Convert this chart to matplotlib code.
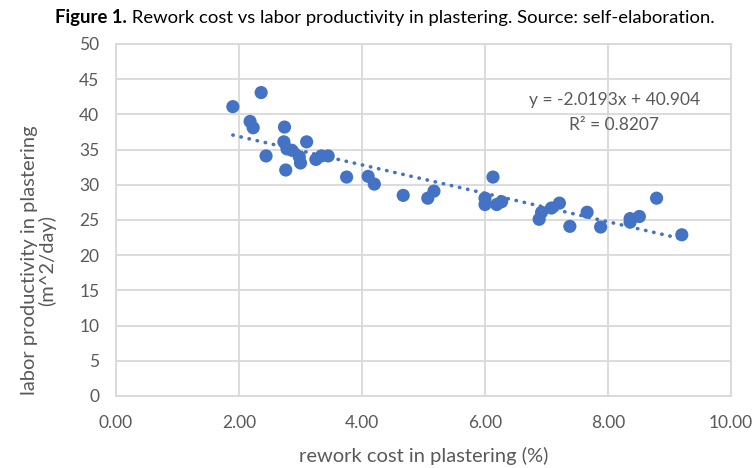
import numpy as np
import matplotlib
matplotlib.use("Agg")
import matplotlib.pyplot as plt

# Rework cost (%) and labor productivity (m^2/day) in plastering
rework_cost = [1.90, 2.36, 2.18, 2.23, 2.44, 2.74, 2.73, 2.78, 2.86, 2.98,
               3.00, 3.10, 2.76, 3.25, 3.34, 3.45, 3.75, 4.10, 4.20, 4.67,
               5.07, 5.17, 6.13, 6.00, 6.00, 6.19, 6.27, 6.88, 6.92, 7.08,
               7.21, 7.38, 7.66, 7.88, 8.36, 8.36, 8.51, 8.79, 9.20]
productivity = [41.1, 43.1, 39.0, 38.1, 34.1, 38.2, 36.1, 35.1, 34.9, 34.0,
                33.1, 36.1, 32.1, 33.6, 34.1, 34.1, 31.1, 31.2, 30.1, 28.5,
                28.1, 29.1, 31.1, 28.1, 27.2, 27.2, 27.6, 25.1, 26.1, 26.7,
                27.4, 24.1, 26.1, 24.0, 24.7, 25.2, 25.5, 28.1, 22.9]

# Linear trendline coefficients
slope = -2.0193
intercept = 40.904
r_squared = 0.8207

x_ticks = [0, 2, 4, 6, 8, 10]
y_ticks = list(range(0, 51, 5))

blue = "#4472C4"
grid_gray = "#D9D9D9"
text_gray = "#595959"

plt.rcParams["font.family"] = ["Lato", "DejaVu Sans"]

fig = plt.figure(figsize=(7.54, 4.68), dpi=100)
ax = fig.add_axes([116 / 754, 72 / 468, 615 / 754, 352 / 468])

ax.scatter(rework_cost, productivity, s=90, color=blue, zorder=3,
           edgecolors="none")

xs = np.array([min(rework_cost), max(rework_cost)])
ax.plot(xs, slope * xs + intercept, linestyle=(0, (0.1, 2.2)), color=blue,
        linewidth=2.6, dash_capstyle="round", zorder=2)

ax.set_xlim(0, 10)
ax.set_ylim(0, 50)
ax.set_xticks(x_ticks)
ax.set_xticklabels([f"{v:.2f}" for v in x_ticks])
ax.set_yticks(y_ticks)
ax.set_yticklabels([str(v) for v in y_ticks])
ax.tick_params(length=0, colors=text_gray, labelsize=12.5)
ax.tick_params(axis="y", pad=12)
ax.tick_params(axis="x", pad=14)
ax.grid(True, color=grid_gray, linewidth=1.3, zorder=0)
ax.set_axisbelow(True)
for sp in ax.spines.values():
    sp.set_color(grid_gray)
    sp.set_linewidth(1.3)

ax.set_xlabel("rework cost in plastering (%)", color=text_gray, fontsize=14.5,
              labelpad=11)
ax.set_ylabel("labor productivity in plastering\n(m^2/day)", color=text_gray,
              fontsize=14.5, linespacing=1.05)
ax.yaxis.set_label_coords(-0.097, 0.385)

ax.text(8.10, 42.1, f"y = {slope}x + {intercept}", color=text_gray,
        fontsize=12.5, ha="center", va="center")
ax.text(8.10, 38.5, f"R² = {r_squared}", color=text_gray,
        fontsize=12.5, ha="center", va="center")

t1 = fig.text(55 / 754, 1 - 17 / 468, "Figure 1.", fontsize=13.3,
              fontweight="bold", color="black", va="center", ha="left")
fig.canvas.draw()
ax.annotate(" Rework cost vs labor productivity in plastering. Source: self-elaboration.",
            xy=(1, 0), xycoords=t1, va="bottom", ha="left", fontsize=13.3,
            color="black", annotation_clip=False)

fig.savefig("out.png", dpi=100)
